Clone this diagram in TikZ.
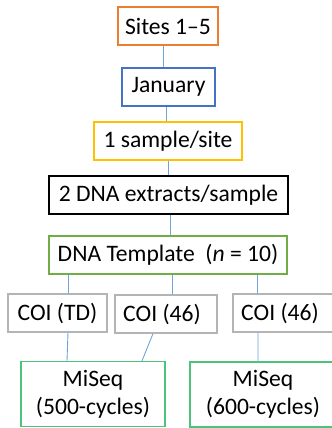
\documentclass[tikz,border=0pt]{standalone}
\usepackage{fontspec}
\setmainfont{Carlito}
\begin{document}
\begin{tikzpicture}[x=1bp,y=-1bp,
  box/.style={draw,line width=1.3bp,inner sep=0pt,align=center,font=\fontsize{23.6bp}{28bp}\selectfont},
  link/.style={draw=linkblue,line width=0.9bp}]
\definecolor{orangeb}{HTML}{ED7D31}
\definecolor{blueb}{HTML}{4472C4}
\definecolor{goldb}{HTML}{FFC000}
\definecolor{greenb}{HTML}{70AD47}
\definecolor{grayb}{HTML}{B4B4B4}
\definecolor{miseqg}{HTML}{4CC27A}
\definecolor{linkblue}{HTML}{6FA3DA}
\useasboundingbox (0,0) rectangle (332,428);
\clip (0,0) rectangle (332,428);
\node[box,draw=orangeb,minimum width=100bp,minimum height=38bp] (sites) at (168,26) {Sites 1–5};
\node[box,draw=blueb,minimum width=93bp,minimum height=38bp] (jan) at (168.5,87) {January};
\node[box,draw=goldb,minimum width=148bp,minimum height=38bp] (samp) at (168,141) {1 sample/site};
\node[box,draw=black,minimum width=239bp,minimum height=38bp] (ext) at (168.5,195) {2 DNA extracts/sample};
\node[box,draw=greenb,minimum width=238bp,minimum height=38bp] (tmpl) at (168,255) {DNA Template~ (\textit{n} = 10)};
\node[box,draw=grayb,minimum width=99bp,minimum height=38bp] (coitd) at (57.5,313) {COI (TD)};
\node[box,draw=grayb,minimum width=102bp,minimum height=38bp] (coim) at (166,314) {\hspace*{-8bp}COI (46)};
\node[box,draw=grayb,minimum width=102bp,minimum height=38bp] (coir) at (284,313) {\hspace*{-8bp}COI (46)};
\node[box,draw=miseqg,minimum width=144bp,minimum height=65bp] (mq5) at (93,394) {MiSeq\\(500-cycles)};
\node[box,draw=miseqg,minimum width=146bp,minimum height=65bp] (mq6) at (263,394.5) {MiSeq\\(600-cycles)};
\draw[link] ([xshift=-5bp]sites.south) -- ([xshift=-5bp]sites.south |- jan.north);
\draw[link] ([xshift=-2.5bp]jan.south) -- ([xshift=-2.5bp]jan.south |- samp.north);
\draw[link] (samp.south) -- (samp.south |- ext.north);
\draw[link] ([xshift=1.5bp]ext.south) -- ([xshift=1.5bp]ext.south |- tmpl.north);
\draw[link] ([xshift=10.5bp]coitd.north) -- ([xshift=10.5bp]coitd.north |- tmpl.south);
\draw[link] ([xshift=6bp]coim.north) -- ([xshift=6bp]coim.north |- tmpl.south);
\draw[link] ([xshift=-27bp]coir.north) -- ([xshift=-27bp]coir.north |- tmpl.south);
\draw[link] ([xshift=10.5bp]coitd.south) -- ([xshift=-26bp]mq5.north);
\draw[link] ([xshift=-13bp]coim.south) -- ([xshift=49bp]mq5.north);
\draw[link] ([xshift=-26bp]coir.south) -- ([xshift=-5bp]mq6.north);
\end{tikzpicture}
\end{document}
